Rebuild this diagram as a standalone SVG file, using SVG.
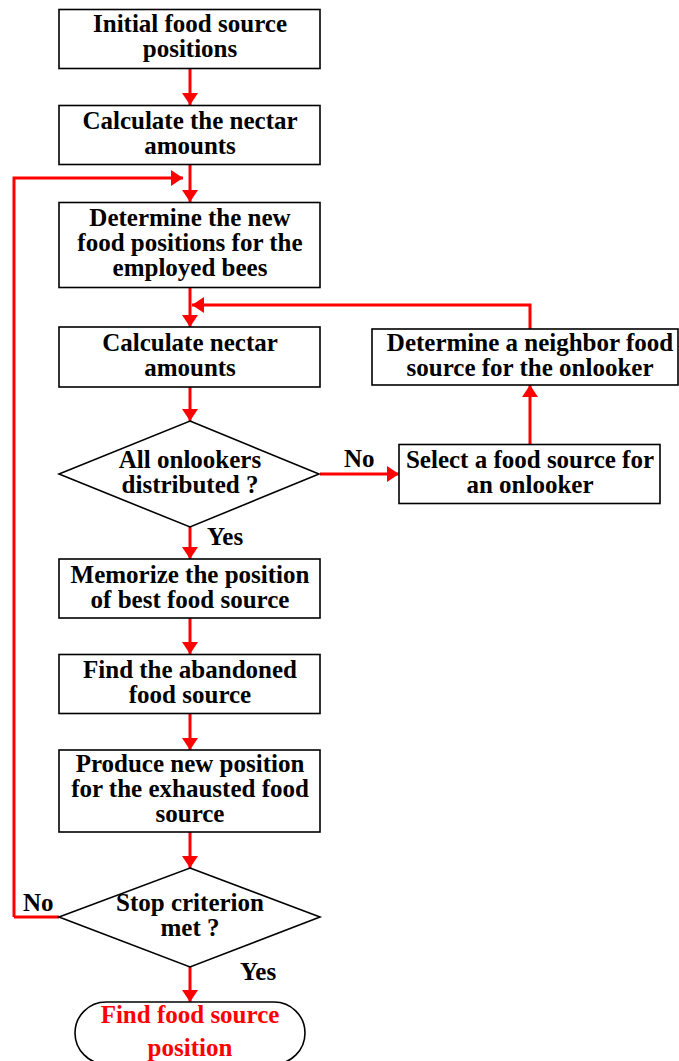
<svg xmlns="http://www.w3.org/2000/svg" width="679" height="1061" viewBox="0 0 679 1061">
<style>
.box{fill:#fff;stroke:#000;stroke-width:1.6}
.t{font-family:"Liberation Serif","Times New Roman",serif;font-weight:bold;font-size:25px;text-anchor:middle;fill:#000}
.lbl{font-family:"Liberation Serif","Times New Roman",serif;font-weight:bold;font-size:25px;fill:#000}
.red{fill:#ff0000}
.c{fill:none;stroke:#ff0000;stroke-width:3}
</style>
<defs>
<marker id="ah" viewBox="0 0 12 16" refX="12" refY="8" markerWidth="12" markerHeight="16" markerUnits="userSpaceOnUse" orient="auto">
<path d="M0,0 L12,8 L0,16 Z" fill="#ff0000"/>
</marker>
</defs>
<rect width="679" height="1061" fill="#fff"/>
<g id="connectors">
<path class="c" d="M190,69 V105" marker-end="url(#ah)"/>
<path class="c" d="M190,165 V202" marker-end="url(#ah)"/>
<path class="c" d="M14,917 V178 H183" marker-end="url(#ah)"/>
<path class="c" d="M190,288 V327" marker-end="url(#ah)"/>
<path class="c" d="M530,329 V305 H192" marker-end="url(#ah)"/>
<path class="c" d="M190,387 V421" marker-end="url(#ah)"/>
<path class="c" d="M320,474 H399" marker-end="url(#ah)"/>
<path class="c" d="M530,444 V385" marker-end="url(#ah)"/>
<path class="c" d="M190,527 V559" marker-end="url(#ah)"/>
<path class="c" d="M190,618 V654" marker-end="url(#ah)"/>
<path class="c" d="M190,714 V750" marker-end="url(#ah)"/>
<path class="c" d="M190,832 V868" marker-end="url(#ah)"/>
<path class="c" d="M59,917 H14"/>
<path class="c" d="M190,967 V1002" marker-end="url(#ah)"/>
<text class="lbl" x="344" y="467">No</text>
<text class="lbl" x="207" y="545">Yes</text>
<text class="lbl" x="23" y="911">No</text>
<text class="lbl" x="240" y="980">Yes</text>
</g>
<g id="n1">
<rect class="box" x="59" y="9.5" width="261" height="59"/>
<text class="t" x="190" y="32">Initial food source</text>
<text class="t" x="190" y="57">positions</text>
</g>
<g id="n2">
<rect class="box" x="59" y="105.5" width="261" height="59"/>
<text class="t" x="190" y="129">Calculate the nectar</text>
<text class="t" x="190" y="154">amounts</text>
</g>
<g id="n3">
<rect class="box" x="59" y="202.5" width="261" height="85"/>
<text class="t" x="190" y="226">Determine the new</text>
<text class="t" x="190" y="251">food positions for the</text>
<text class="t" x="190" y="276">employed bees</text>
</g>
<g id="n4">
<rect class="box" x="59" y="327" width="261" height="60"/>
<text class="t" x="190" y="351">Calculate nectar</text>
<text class="t" x="190" y="376">amounts</text>
</g>
<g id="d1">
<polygon class="box" points="190,421 319,474 190,527 59,474"/>
<text class="t" x="190" y="468">All onlookers</text>
<text class="t" x="190" y="493">distributed ?</text>
</g>
<g id="n5">
<rect class="box" x="399" y="444.5" width="261" height="59"/>
<text class="t" x="530" y="468">Select a food source for</text>
<text class="t" x="530" y="493">an onlooker</text>
</g>
<g id="n6">
<rect class="box" x="372" y="329" width="306" height="56"/>
<text class="t" x="530" y="351">Determine a neighbor food</text>
<text class="t" x="530" y="376">source for the onlooker</text>
</g>
<g id="n7">
<rect class="box" x="59" y="559" width="261" height="59"/>
<text class="t" x="190" y="583">Memorize the position</text>
<text class="t" x="190" y="608">of best food source</text>
</g>
<g id="n8">
<rect class="box" x="59" y="654.5" width="261" height="59"/>
<text class="t" x="190" y="678">Find the abandoned</text>
<text class="t" x="190" y="703">food source</text>
</g>
<g id="n9">
<rect class="box" x="59" y="750" width="261" height="82"/>
<text class="t" x="190" y="772">Produce new position</text>
<text class="t" x="190" y="797">for the exhausted food</text>
<text class="t" x="190" y="822">source</text>
</g>
<g id="d2">
<polygon class="box" points="190,868 320,917 190,967 59,917"/>
<text class="t" x="190" y="911">Stop criterion</text>
<text class="t" x="190" y="936">met ?</text>
</g>
<g id="end">
<rect class="box" x="75" y="1002" width="230" height="62" rx="31" ry="31"/>
<text class="t red" x="190" y="1023">Find food source</text>
<text class="t red" x="190" y="1056">position</text>
</g>
</svg>
